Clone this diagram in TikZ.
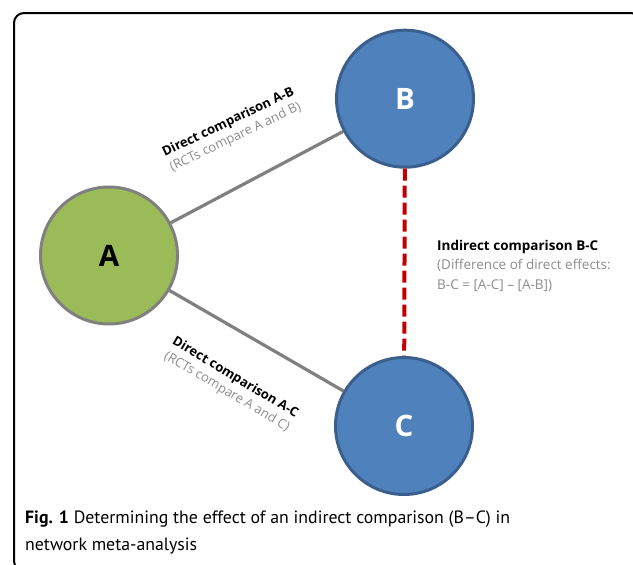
\documentclass[tikz,border=0pt]{standalone}
\usepackage{fontspec}
\setmainfont{Carlito}
\newfontfamily\diagfont{Open Sans}
\newfontfamily\capfont{PT Sans}
\usepackage{xcolor}
\definecolor{nodegreen}{HTML}{9BBB59}
\definecolor{nodeblue}{HTML}{4F81BD}
\definecolor{blueedge}{HTML}{3A5F8C}
\definecolor{edgegray}{HTML}{808080}
\definecolor{notegray}{HTML}{8C8C8C}
\definecolor{dashred}{HTML}{C00000}
\tikzset{
treat/.style={
  circle,
  minimum size=137pt,
  inner sep=0pt,
  line width=3pt,
  font=\diagfont\fontsize{29.5}{29.5}\selectfont\bfseries
},
greentreat/.style={treat,fill=nodegreen,draw=edgegray},
bluetreat/.style={treat,fill=nodeblue,draw=blueedge,text=white},
direct/.style={draw=edgegray,line width=3.2pt},
indirect/.style={draw=dashred,line width=4pt,dash pattern=on 12pt off 5pt},
note/.style={inner sep=0pt,align=center,font=\diagfont\fontsize{13}{16.5}\selectfont},
}

\begin{document}
\begin{tikzpicture}[x=1pt,y=-1pt]
\useasboundingbox (0,0) rectangle (633,565);
\clip (0,0) rectangle (633,565);
% the frame
\draw[line width=2pt,rounded corners=10pt] (14,13) rectangle (641,571);
% the treatments
\node[greentreat] (A) at (109,255.5) {A};
\node[bluetreat] (B) at (405,98.7) {B};
\node[bluetreat] (C) at (404,426) {C};
% the comparisons
\draw[direct] (A) -- (B);
\draw[direct] (A) -- (C);
\draw[indirect] (B) -- (C);
% the labels
\node[note,rotate=25.6] (ab) at (232,130)
  {\bfseries Direct comparison A-B\\ \color{notegray}(RCTs compare A and B)};
\node[note,rotate=-30.8] (ac) at (231,385)
  {\bfseries Direct comparison A-C\\ \color{notegray}(RCTs compare A and C)};
\node[note,align=left,anchor=north west,font=\diagfont\fontsize{13.5}{19.5}\selectfont] (bc) at (437,240)
  {\bfseries Indirect comparison B-C\\
   \color{notegray}(Difference of direct effects:\\
   \color{notegray}B-C = [A-C] – [A-B])};
% the caption
\node[inner sep=0pt,align=left,anchor=north west,font=\capfont\fontsize{17.8}{27}\selectfont] (caption) at (25,511)
  {\capfont\fontsize{17.8}{27}\selectfont\textbf{Fig. 1} Determining the effect of an indirect comparison (B–C) in\\
   network meta-analysis};
\end{tikzpicture}
\end{document}
